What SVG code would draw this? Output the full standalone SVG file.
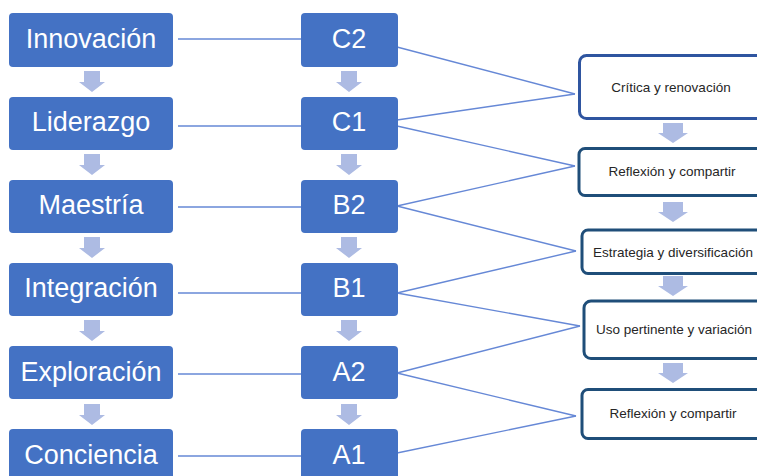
<svg xmlns="http://www.w3.org/2000/svg" width="757" height="476" viewBox="0 0 757 476">
<style>
.lbox{fill:#4472C4}
.ltxt{font-family:"Liberation Sans",Arial,sans-serif;font-size:27px;fill:#ffffff;text-anchor:middle}
.rbox{fill:#ffffff;stroke:#1F4E79;stroke-width:3}
.rtxt{font-family:"Liberation Sans",Arial,sans-serif;font-size:13.5px;fill:#262626;text-anchor:middle}
.conn line{stroke:#6688D6;stroke-width:1.4}
.arr{fill:#ADBBE3}
</style>
<defs>
<path id="da" d="M-8,0H8V11H13L0,21L-13,11H-8Z"/>
<path id="ra" d="M-10,0H10V10H15L0,20L-15,10H-10Z"/>
</defs>
<rect width="757" height="476" fill="#ffffff"/>
<g class="conn" id="connectors">
<line x1="178" y1="39" x2="301" y2="39"/>
<line x1="178" y1="126" x2="301" y2="126"/>
<line x1="178" y1="207" x2="301" y2="207"/>
<line x1="178" y1="293" x2="301" y2="293"/>
<line x1="178" y1="374" x2="301" y2="374"/>
<line x1="178" y1="456" x2="301" y2="456"/>
<line x1="397" y1="47" x2="575" y2="94"/>
<line x1="397" y1="120" x2="575" y2="94"/>
<line x1="397" y1="126" x2="575" y2="166"/>
<line x1="397" y1="206" x2="575" y2="166"/>
<line x1="397" y1="206" x2="576" y2="251"/>
<line x1="397" y1="293" x2="576" y2="251"/>
<line x1="397" y1="293" x2="580" y2="326"/>
<line x1="397" y1="373" x2="580" y2="326"/>
<line x1="397" y1="373" x2="576" y2="416"/>
<line x1="397" y1="453" x2="576" y2="416"/>
</g>
<g id="arrows" class="arr">
<use href="#da" x="92" y="71"/><use href="#da" x="92" y="154"/><use href="#da" x="92" y="237"/><use href="#da" x="92" y="320"/><use href="#da" x="92" y="404"/>
<use href="#da" x="349" y="71"/><use href="#da" x="349" y="154"/><use href="#da" x="349" y="237"/><use href="#da" x="349" y="320"/><use href="#da" x="349" y="404"/>
<use href="#ra" x="673" y="123"/><use href="#ra" x="673" y="202"/><use href="#ra" x="673" y="276"/><use href="#ra" x="673" y="363"/>
</g>
<g id="innovacion"><rect class="lbox" x="9" y="13" width="164" height="54" rx="4"/><text class="ltxt" x="91" y="48">Innovación</text></g>
<g id="liderazgo"><rect class="lbox" x="9" y="97" width="164" height="53" rx="4"/><text class="ltxt" x="91" y="131">Liderazgo</text></g>
<g id="maestria"><rect class="lbox" x="9" y="180" width="164" height="53" rx="4"/><text class="ltxt" x="91" y="214">Maestría</text></g>
<g id="integracion"><rect class="lbox" x="9" y="263" width="164" height="53" rx="4"/><text class="ltxt" x="91" y="297">Integración</text></g>
<g id="exploracion"><rect class="lbox" x="9" y="346" width="164" height="53" rx="4"/><text class="ltxt" x="91" y="381">Exploración</text></g>
<g id="conciencia"><rect class="lbox" x="9" y="429" width="164" height="53" rx="4"/><text class="ltxt" x="91" y="464">Conciencia</text></g>
<g id="c2"><rect class="lbox" x="301" y="13" width="97" height="54" rx="4"/><text class="ltxt" x="349" y="48">C2</text></g>
<g id="c1"><rect class="lbox" x="301" y="97" width="97" height="53" rx="4"/><text class="ltxt" x="349" y="131">C1</text></g>
<g id="b2"><rect class="lbox" x="301" y="180" width="97" height="53" rx="4"/><text class="ltxt" x="349" y="214">B2</text></g>
<g id="b1"><rect class="lbox" x="301" y="263" width="97" height="53" rx="4"/><text class="ltxt" x="349" y="297">B1</text></g>
<g id="a2"><rect class="lbox" x="301" y="346" width="97" height="53" rx="4"/><text class="ltxt" x="349" y="381">A2</text></g>
<g id="a1"><rect class="lbox" x="301" y="429" width="97" height="53" rx="4"/><text class="ltxt" x="349" y="464">A1</text></g>
<g id="critica"><rect class="rbox" x="579.5" y="55.5" width="188" height="63" rx="7" style="stroke:#2F55A0"/><text class="rtxt" x="671" y="92">Crítica y renovación</text></g>
<g id="reflexion1"><rect class="rbox" x="579" y="148.5" width="188" height="47" rx="6"/><text class="rtxt" x="672" y="176">Reflexión y compartir</text></g>
<g id="estrategia"><rect class="rbox" x="582" y="230" width="185" height="43.5" rx="6"/><text class="rtxt" x="673" y="257">Estrategia y diversificación</text></g>
<g id="uso"><rect class="rbox" x="584" y="301" width="183" height="57.5" rx="7"/><text class="rtxt" x="674" y="334">Uso pertinente y variación</text></g>
<g id="reflexion2"><rect class="rbox" x="582" y="389.5" width="185" height="49" rx="6"/><text class="rtxt" x="673" y="418">Reflexión y compartir</text></g>
</svg>
